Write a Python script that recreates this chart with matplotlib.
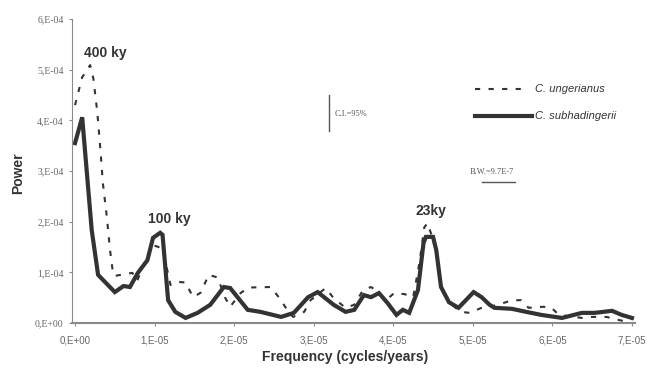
import matplotlib
matplotlib.use("Agg")
import matplotlib.pyplot as plt
import numpy as np

# frequency in units of 1E-6 cycles/year, power in units of 1E-4
freq_sub = [0, 0.9, 2.1, 2.9, 5.0, 6.1, 6.9, 7.9, 9.1, 9.8, 10.7, 11.0, 11.7, 12.6,
            13.9, 15.4, 17.0, 18.7, 19.5, 21.7, 23.3, 25.9, 27.5, 29.3, 30.5, 32.5,
            34.0, 35.1, 36.3, 37.2, 38.2, 39.3, 40.4, 41.2, 42.0, 43.1, 43.8, 44.1,
            45.0, 45.4, 46.0, 47.0, 48.2, 50.1, 51.1, 52.1, 52.7, 54.9, 56.7, 58.6,
            61.2, 63.7, 65.3, 67.5, 68.7, 70.0]
pow_sub = [3.55, 4.06, 1.83, 0.95, 0.61, 0.73, 0.71, 0.99, 1.24, 1.68, 1.78, 1.74, 0.45, 0.22,
           0.10, 0.20, 0.36, 0.71, 0.69, 0.26, 0.22, 0.12, 0.20, 0.51, 0.61, 0.36,
           0.22, 0.26, 0.55, 0.51, 0.59, 0.39, 0.16, 0.26, 0.20, 0.65, 1.58, 1.70,
           1.70, 1.44, 0.71, 0.41, 0.30, 0.61, 0.51, 0.36, 0.30, 0.28, 0.22, 0.16,
           0.10, 0.20, 0.20, 0.24, 0.16, 0.10]

freq_ung = [0, 0.9, 1.9, 2.3, 2.8, 3.2, 3.5, 4.0, 4.4, 4.8, 5.0, 7.2, 7.8, 9.7, 10.5,
            11.1, 12.0, 13.0, 13.9, 14.5, 14.9, 15.8, 16.8, 17.9, 18.9, 19.5, 20.8,
            21.8, 24.6, 25.6, 26.5, 27.4, 28.8, 29.6, 31.5, 32.5, 34.0, 35.1, 36.2,
            37.2, 37.8, 39.1, 40.1, 41.4, 42.5, 43.3, 43.9, 44.3, 44.8, 45.4, 46.0,
            47.0, 48.5, 49.6, 51.1, 53.0, 54.9, 56.1, 57.0, 58.9, 59.9, 60.8, 63.7,
            64.9, 66.8, 67.8, 68.9, 70.0]
pow_ung = [4.30, 4.85, 5.09, 4.83, 4.16, 3.40, 2.76, 2.09, 1.44, 0.95, 0.93, 0.99, 0.83, 1.54, 1.50,
           1.40, 0.75, 0.81, 0.80, 0.61, 0.51, 0.60, 0.95, 0.90, 0.49, 0.32, 0.59,
           0.70, 0.71, 0.51, 0.30, 0.12, 0.22, 0.45, 0.69, 0.49, 0.30, 0.36, 0.65,
           0.71, 0.65, 0.45, 0.59, 0.57, 0.51, 1.20, 1.89, 1.97, 1.74, 1.40, 0.71,
           0.40, 0.22, 0.20, 0.30, 0.35, 0.45, 0.45, 0.30, 0.32, 0.30, 0.16, 0.10,
           0.12, 0.12, 0.08, 0.04, 0.08]

xticks = [0, 1e-5, 2e-5, 3e-5, 4e-5, 5e-5, 6e-5, 7e-5]
xlabels = ["0,E+00", "1,E-05", "2,E-05", "3,E-05", "4,E-05", "5,E-05", "6,E-05", "7,E-05"]
yticks = [0, 1e-4, 2e-4, 3e-4, 4e-4, 5e-4, 6e-4]
ylabels = ["0,E+00", "1,E-04", "2,E-04", "3,E-04", "4,E-04", "5,E-04", "6,E-04"]

ink = "#333333"
grey = "#8a8a8a"
dots = (0, (2.5, 4))

fig = plt.figure(figsize=(6.63, 3.71), dpi=100)
ax = fig.add_axes([72 / 663, 1 - 323 / 371, 563 / 663, 304 / 371])

ax.plot(np.array(freq_ung) * 1e-6, np.array(pow_ung) * 1e-4, color=ink, lw=1.5,
        linestyle=dots, label="C. ungerianus")
ax.plot(np.array(freq_sub) * 1e-6, np.array(pow_sub) * 1e-4, color=ink, lw=3,
        solid_joinstyle="miter", label="C. subhadingerii")

ax.set_xlim(-0.038e-5, 7.038e-5)
ax.set_ylim(0, 6e-4)
ax.set_xticks(xticks)
ax.set_xticklabels(xlabels, fontsize=7, color="#666666", family="Liberation Sans")
ax.set_yticks(yticks)
ax.set_yticklabels(ylabels, fontsize=7, color="#666666", family="Liberation Serif")
ax.tick_params(axis="both", length=2, color=grey, pad=4)
ax.tick_params(axis="x", pad=7)

for s in ["top", "right"]:
    ax.spines[s].set_visible(False)
ax.spines["left"].set_color(grey)
ax.spines["bottom"].set_color(grey)
ax.spines["bottom"].set_linewidth(1.5)

bold = dict(family="Liberation Sans", fontweight="bold", fontsize=10, color=ink)
fig.text(345 / 663, 1 - 357 / 371, "Frequency (cycles/years)", ha="center", va="center", **bold)
fig.text(18 / 663, 1 - 173 / 371, "Power", rotation=90, ha="center", va="center", **bold)

# peak labels
fig.text(84 / 663, 1 - 53 / 371, "400 ky", va="center", **bold)
fig.text(148 / 663, 1 - 219 / 371, "100 ky", va="center", **bold)
fig.text(415 / 663, 1 - 211 / 371, "23ky", va="center", **bold)

# legend drawn by hand
fig.add_artist(plt.Line2D([475 / 663, 525 / 663], [1 - 89 / 371] * 2, color=ink, lw=1.5,
                          linestyle=dots))
fig.add_artist(plt.Line2D([475 / 663, 532 / 663], [1 - 116 / 371] * 2, color=ink, lw=3))
fig.text(535 / 663, 1 - 89 / 371, "C. ungerianus", style="italic", fontsize=8,
         family="Liberation Sans", color=ink, va="center")
fig.text(535 / 663, 1 - 116 / 371, "C. subhadingerii", style="italic", fontsize=8,
         family="Liberation Sans", color=ink, va="center")

# confidence interval and bandwidth markers
fig.add_artist(plt.Line2D([329 / 663] * 2, [1 - 95 / 371, 1 - 131 / 371], color="#555555", lw=1))
fig.text(335 / 663, 1 - 114 / 371, "C.I.=95%", fontsize=6, family="Liberation Serif",
         color="#555555", va="center")
fig.text(470 / 663, 1 - 172 / 371, "B.W.=9.7E-7", fontsize=6, family="Liberation Serif",
         color="#555555", va="center")
fig.add_artist(plt.Line2D([482 / 663, 515 / 663], [1 - 182 / 371] * 2, color="#555555", lw=1))

fig.savefig("out.png", dpi=100)
